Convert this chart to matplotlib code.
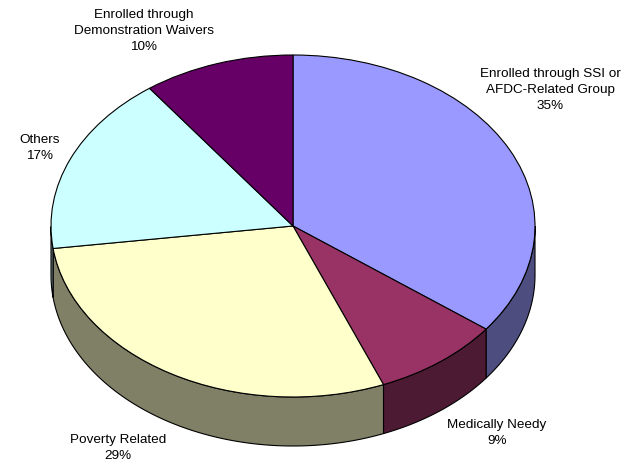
import numpy as np
import matplotlib
matplotlib.use("Agg")
import matplotlib.pyplot as plt

labels = ["Enrolled through SSI or\nAFDC-Related Group", "Medically Needy", "Poverty Related",
          "Others", "Enrolled through\nDemonstration Waivers"]
values = [35.3, 8.6, 29.0, 17.0, 10.1]
colors = ["#9999FF", "#993366", "#FFFFCC", "#CCFFFF", "#660066"]
side_colors = ["#4D4D80", "#4D1A33", "#808066", "#668080", "#330033"]

# label centres in pixels
label_pos = [(550, 90), (497, 433), (118, 448), (40, 148), (144, 31)]

W, H = 634, 462
cx, cy = 293, 226
rx, ry = 242, 171
depth = 49

plt.rcParams['font.family'] = ['Liberation Sans']

fig = plt.figure(figsize=(W / 100, H / 100), dpi=100)
ax = fig.add_axes([0, 0, 1, 1])

wedges, _ = ax.pie(values, colors=colors, startangle=90, counterclock=False,
                   wedgeprops={"edgecolor": "black", "linewidth": 0.8, "zorder": 3})
ax.set_aspect("auto")
ax.set_xlim(-cx / rx, (W - cx) / rx)
ax.set_ylim(-(H - cy) / ry, cy / ry)
ax.axis("off")

# side wall of the pie, only the part facing down
d = depth / ry
fracs = np.cumsum([0] + values) / sum(values)
for i in range(len(values)):
    a = 90 - 360 * fracs[i]
    b = 90 - 360 * fracs[i + 1]
    t = np.radians(np.linspace(a, b, 200))
    t = t[np.sin(t) <= 0]
    if len(t) == 0:
        continue
    x = np.cos(t)
    y = np.sin(t)
    ax.fill(np.r_[x, x[::-1]], np.r_[y, y[::-1] - d], facecolor=side_colors[i],
            edgecolor="black", linewidth=0.8, zorder=1)

for name, v, (px, py) in zip(labels, values, label_pos):
    fig.text(px / W, 1 - py / H, f"{name}\n{v:.0f}%", ha="center", va="center",
             fontsize=9.7, linespacing=1.45, color="black")

fig.savefig("out.png", dpi=100)
